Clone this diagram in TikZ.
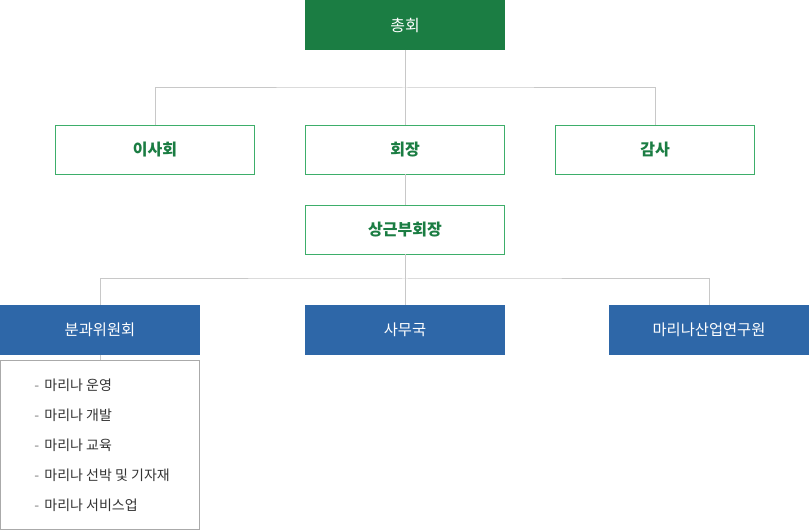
\documentclass[tikz,border=0pt]{standalone}
\usepackage{fontspec}
\setmainfont{Noto Sans CJK KR}
\definecolor{orgdark}{HTML}{1B7D43}
\definecolor{orgline}{HTML}{3DAE6A}
\definecolor{orgblue}{HTML}{2E67A8}
\definecolor{orggray}{HTML}{C8C8C8}
\definecolor{orglist}{HTML}{AAAAAA}
\definecolor{orgtext}{HTML}{333333}
\begin{document}
\begin{tikzpicture}[x=0.75pt, y=-0.75pt]
\tikzset{topbox/.style={shape=rectangle, minimum width=150pt, minimum height=37.5pt, inner sep=0pt, outer sep=0pt, fill=orgdark, text=white, font=\fontsize{12}{14}\selectfont}}
\tikzset{midbox/.style={shape=rectangle, minimum width=149pt, minimum height=36.75pt, inner sep=0pt, outer sep=0pt, draw=orgline, line width=0.75pt, fill=white, text=orgdark, font=\fontsize{12}{14}\selectfont\bfseries}}
\tikzset{lowbox/.style={shape=rectangle, minimum width=150pt, minimum height=37.5pt, inner sep=0pt, outer sep=0pt, fill=orgblue, text=white, font=\fontsize{11.5}{14}\selectfont}}
\tikzset{orgedge/.style={draw=orggray, line width=0.75pt}}
\tikzset{listitem/.style={anchor=west, inner sep=0pt, text=orgtext, font=\fontsize{10.5}{12}\selectfont}}
\useasboundingbox (0,0) rectangle (809,530);
% general meeting
\node (gm) [topbox] at (405, 25) {\raisebox{-1pt}{총회}};
% board, chairman, auditor
\node (board) [midbox] at (155, 150) {\raisebox{-1.2pt}{이사회}};
\node (chair) [midbox] at (405, 150) {\raisebox{-1.2pt}{회장}};
\node (audit) [midbox] at (655, 150) {\raisebox{-1.2pt}{감사}};
\node (vice) [midbox] at (405, 230) {\raisebox{-1.2pt}{상근부회장}};
% lower units
\node (comm) [lowbox] at (100, 330) {\raisebox{-1pt}{분과위원회}};
\node (office) [lowbox] at (405, 330) {\raisebox{-1pt}{사무국}};
\node (inst) [lowbox] at (709, 330) {\raisebox{-1pt}{마리나산업연구원}};
\node (list) [shape=rectangle, minimum width=149pt, minimum height=126.75pt, inner sep=0pt, outer sep=0pt, draw=orglist, line width=0.75pt] at (100, 445) {};
\foreach \txt [count=\i] in {마리나 운영, 마리나 개발, 마리나 교육, 마리나 선박 및 기자재, 마리나 서비스업}
  \node (item\i) [listitem] at (34, 355.5 + 30*\i) {\textcolor{gray}{-}\hspace{4pt}\txt};
% junctions
\coordinate (j1) at (405, 88);
\coordinate (j2) at (405, 279);
% connectors
\draw[orgedge] (gm) -- (chair);
\draw[orgedge] (board.north) |- (j1) -| (audit.north);
\draw[orgedge] (chair) -- (vice);
\draw[orgedge] (vice) -- (office);
\draw[orgedge] (comm.north) |- (j2) -| (inst.north);
\draw[orgedge] (comm) -- (list);
\end{tikzpicture}
\end{document}
